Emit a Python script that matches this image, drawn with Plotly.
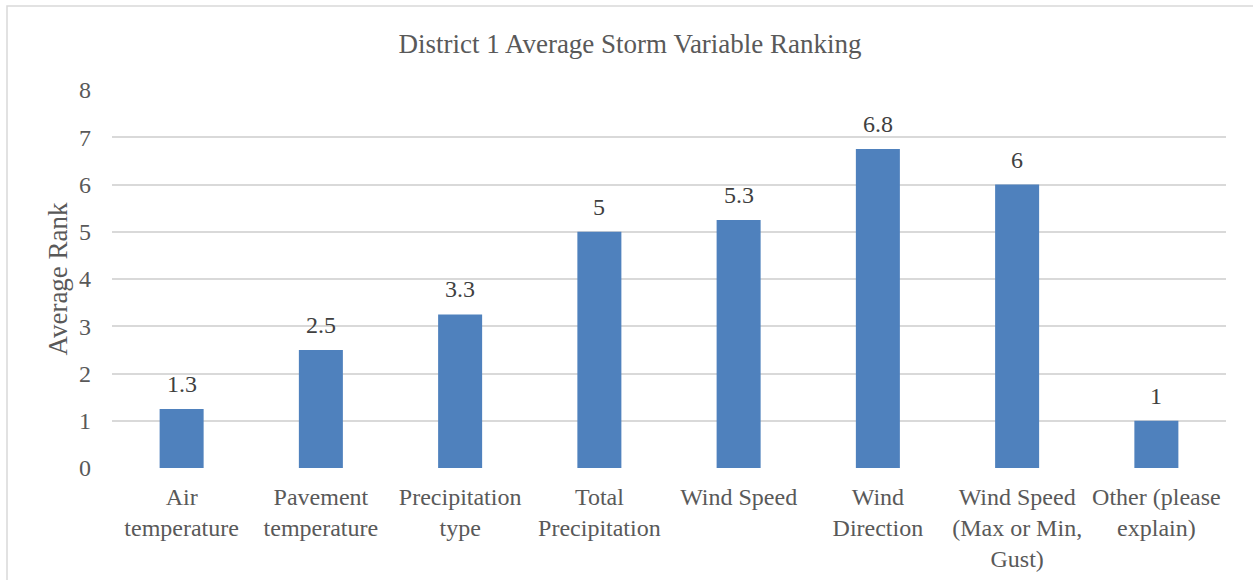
import plotly.graph_objects as go

categories = ["Air<br>temperature", "Pavement<br>temperature", "Precipitation<br>type",
              "Total<br>Precipitation", "Wind Speed", "Wind<br>Direction",
              "Wind Speed<br>(Max or Min,<br>Gust)", "Other (please<br>explain)"]
values = [1.25, 2.5, 3.25, 5.0, 5.25, 6.75, 6.0, 1.0]
value_labels = ["1.3", "2.5", "3.3", "5", "5.3", "6.8", "6", "1"]
y_ticks = [0, 1, 2, 3, 4, 5, 6, 7, 8]

FONT = "Liberation Serif, Times New Roman, serif"
TXT = "#595959"

fig = go.Figure()
fig.add_trace(go.Bar(
    x=categories, y=values,
    marker=dict(color="#4F81BD", line=dict(width=0)),
    hoverinfo="skip"))

for c, v, t in zip(categories, values, value_labels):
    fig.add_annotation(x=c, y=v, text=t, showarrow=False, yanchor="bottom", yshift=10,
                       font=dict(family=FONT, size=24, color="#404040"))

# plot area at x 112..1226, y 90..468
fig.update_layout(
    width=1253, height=580,
    margin=dict(l=112, r=27, t=90, b=112, autoexpand=False),
    paper_bgcolor="white", plot_bgcolor="white",
    bargap=0.684,
    showlegend=False,
    font=dict(family=FONT, color=TXT, size=24),
    title=dict(text="District 1 Average Storm Variable Ranking", x=630 / 1253, xanchor="center",
               y=1 - 44 / 580, yanchor="middle",
               font=dict(family=FONT, size=27, color=TXT)),
    xaxis=dict(showgrid=False, ticks="", tickfont=dict(family=FONT, size=24, color=TXT),
               showline=False, zeroline=False, ticklabelstandoff=12, automargin=False),
    yaxis=dict(range=[0, 8], tickvals=y_ticks, showgrid=True, gridcolor="#D9D9D9",
               gridwidth=1.5, zeroline=False, showline=False, ticks="", ticklabelstandoff=20,
               automargin=False,
               tickfont=dict(family=FONT, size=24, color=TXT),
               title=dict(text="Average Rank", font=dict(family=FONT, size=27, color=TXT),
                          standoff=3)),
    shapes=[dict(type="rect", xref="paper", yref="paper",
                 x0=(7 - 112) / 1114, x1=(1262 - 112) / 1114,
                 y0=(468 - 592) / 378, y1=(468 - 6) / 378,
                 line=dict(color="#D9D9D9", width=1.5), fillcolor="rgba(0,0,0,0)", layer="below")],
)

fig.write_html("out.html", config={"displayModeBar": False},
               post_script="document.body.style.margin='0';document.body.style.overflow='hidden';")
